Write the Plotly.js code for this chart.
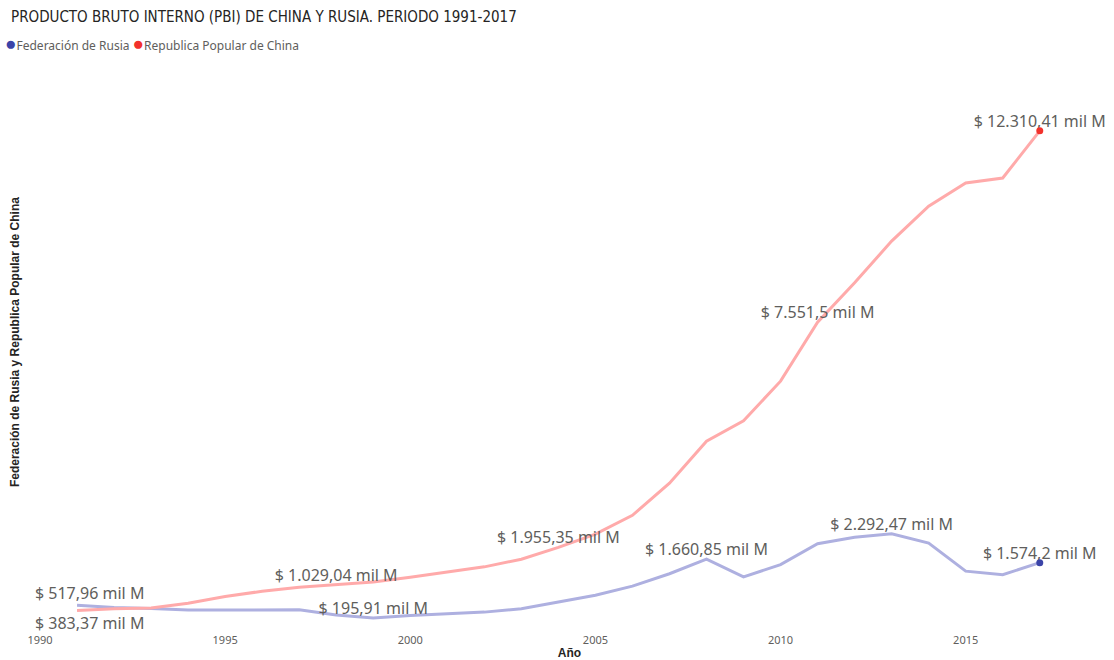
<!DOCTYPE html>
<html><head><meta charset="utf-8">
<script src="https://cdn.plot.ly/plotly-3.0.1.min.js"></script>
<style>body{margin:0;background:#fff}#chart{width:1114px;height:660px}</style>
</head><body><div id="chart"></div>
<script>
const years = [1991,1992,1993,1994,1995,1996,1997,1998,1999,2000,2001,2002,2003,2004,2005,2006,2007,2008,2009,2010,2011,2012,2013,2014,2015,2016,2017];
const china = [383.37,426.9,444.7,564.3,734.5,863.7,961.6,1029.04,1094.0,1211.3,1339.4,1470.6,1660.3,1955.35,2286.0,2752.1,3550.3,4594.3,5101.7,6087.2,7551.5,8532.2,9570.4,10438.5,11015.5,11137.9,12310.41];
const russia = [517.96,460.3,435.1,395.1,395.5,391.7,404.9,271.0,195.91,259.7,306.6,345.1,430.3,591.0,764.0,989.9,1299.7,1660.85,1222.6,1524.9,2045.9,2208.3,2292.47,2059.2,1363.5,1276.8,1574.2];
const chinaLabelYears = [1998,2004,2011,2017];
const russiaLabelYears = [1999,2008,2013,2017];
const seriesNames = ["Federación de Rusia","Republica Popular de China"];

function fmt(v){
  let s = v.toFixed(2).replace(/0+$/,'').replace(/\.$/,'');
  let [i,d] = s.split('.');
  i = i.replace(/\B(?=(\d{3})+(?!\d))/g,'.');
  return '$ ' + i + (d ? ','+d : '') + ' mil M';
}
function labels(vals, yrs){ return years.map((y,k)=> yrs.includes(y) ? fmt(vals[k]) : ''); }

const labFont = {family:'"Noto Sans", "Open Sans", sans-serif', size:16, color:'#605E5C'};
const last = years.length-1;
const traces = [
  {x:years, y:russia, mode:'lines+text', name:seriesNames[0], line:{color:'#AEB0E0', width:3}, cliponaxis:false,
   text:labels(russia, russiaLabelYears), textposition:'top center', textfont:labFont, showlegend:false},
  {x:years, y:china, mode:'lines+text', name:seriesNames[1], line:{color:'#FFAAAA', width:3}, cliponaxis:false,
   text:labels(china, chinaLabelYears), textposition:'top center', textfont:labFont, showlegend:false},
  {x:[years[last]], y:[russia[last]], mode:'markers', name:seriesNames[0], marker:{color:'#3B44A8', size:7}, cliponaxis:false, showlegend:false},
  {x:[years[last]], y:[china[last]], mode:'markers', name:seriesNames[1], marker:{color:'#F2312C', size:7}, cliponaxis:false, showlegend:false}
];

const layout = {
  width:1114, height:660,
  margin:{l:40, r:15, t:83, b:34},
  paper_bgcolor:'#fff', plot_bgcolor:'#fff',
  showlegend:false,
  xaxis:{range:[1990,2018.6], tickvals:[1990,1995,2000,2005,2010,2015], showgrid:false, zeroline:false, showline:false,
    ticks:'outside', ticklen:4, tickcolor:'rgba(0,0,0,0)', tickfont:{family:'"Noto Sans", sans-serif', size:11, color:'#605E5C'},
    title:{text:'<b>Año</b>', font:{family:'"Liberation Sans", Arial, sans-serif', size:12, color:'#252423'}, standoff:10}},
  yaxis:{range:[0,13500], showticklabels:false, showgrid:false, zeroline:false, showline:false, ticks:''},
  annotations:[
    {xref:'paper', yref:'paper', x:-0.0295, y:(626-17)/543, xanchor:'left', yanchor:'middle', showarrow:false,
     text:'PRODUCTO BRUTO INTERNO (PBI) DE CHINA Y RUSIA. PERIODO 1991-2017',
     font:{family:'"DejaVu Sans Condensed", Roboto, sans-serif', size:15, color:'#252423'}},
    {xref:'paper', yref:'paper', x:-0.0345, y:(626-43)/543, xanchor:'left', yanchor:'middle', showarrow:false,
     text:'<span style="color:#3B44A8;font-size:19px">●</span>Federación de Rusia <span style="color:#F2312C;font-size:19px">●</span>Republica Popular de China',
     font:{family:'"Noto Sans", sans-serif', size:12, color:'#605E5C'}},
    {xref:'paper', yref:'paper', x:-0.0235, y:(626-342)/543, xanchor:'center', yanchor:'middle', showarrow:false, textangle:-90,
     text:'<b>Federación de Rusia y Republica Popular de China</b>',
     font:{family:'"Liberation Sans", Arial, sans-serif', size:12, color:'#252423'}},
    {x:years[0], y:russia[0], text:fmt(russia[0]), showarrow:false, xanchor:'center', yanchor:'bottom', xshift:12, yshift:-1, font:labFont},
    {x:years[0], y:china[0], text:fmt(china[0]), showarrow:false, xanchor:'center', yanchor:'top', xshift:12, yshift:1, font:labFont}
  ]
};
Plotly.newPlot('chart', traces, layout, {displayModeBar:false, staticPlot:true});
</script></body></html>
